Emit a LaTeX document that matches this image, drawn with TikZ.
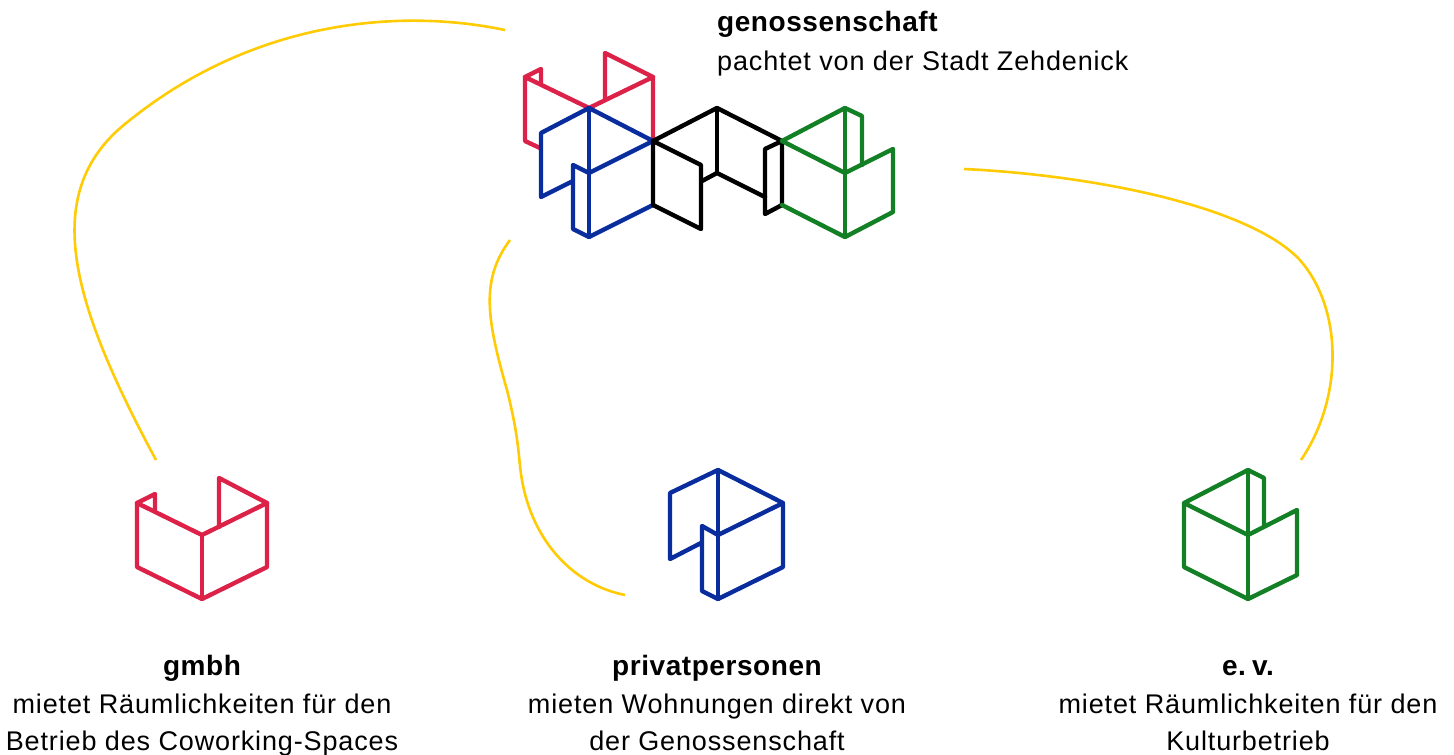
\documentclass[tikz,border=0pt]{standalone}
\usepackage{fontspec}
\setmainfont{Liberation Sans}
\newfontfamily\bodyfont[LetterSpace=3.2]{Liberation Sans}
\newfontfamily\headfont[LetterSpace=2,BoldFont={Liberation Sans Bold}]{Liberation Sans}
\definecolor{cred}{HTML}{DC2249}
\definecolor{cblue}{HTML}{0A2D9E}
\definecolor{cgreen}{HTML}{148025}
\definecolor{cyel}{HTML}{FFCB05}
\tikzset{
 icon/.style={line width=4.4pt,line join=round,line cap=round},
 curve/.style={cyel,line width=2.6pt},
 head/.style={inner sep=0pt,font=\headfont\fontsize{28}{28}\selectfont\bfseries},
 body/.style={inner sep=0pt,font=\bodyfont\fontsize{27}{27}\selectfont}
}
\begin{document}
\begin{tikzpicture}[x=1pt,y=-1pt]
\useasboundingbox (0,0) rectangle (1454,755);
% top cluster
\begin{scope}[icon,cred]
\draw (540,148)--(525,141)--(525,77)--(589,108)--(653,77)--(653,140);
\draw (525,77)--(541,69)--(541,84);
\draw (605,100)--(605,53)--(653,77);
\end{scope}
\begin{scope}[icon,cblue]
\draw (573,181)--(541,197)--(541,133)--(589,108)--(653,141)--(589,173)--(573,165)--(573,229)--(589,237)--(653,205);
\draw (589,108)--(589,237);
\end{scope}
\begin{scope}[icon,black]
\draw (653,141)--(717,108)--(782,141)--(782,205)--(765,214)--(765,149)--(782,141);
\draw (653,141)--(653,205)--(701,229)--(701,165)--(653,141);
\draw (717,108)--(717,173);
\draw (702,181)--(717,173)--(765,197);
\end{scope}
\begin{scope}[icon,cgreen]
\draw (782,141)--(845,108)--(862,116)--(862,165);
\draw (782,141)--(845,173)--(893,149)--(893,212)--(845,237)--(782,205);
\draw (845,108)--(845,237);
\end{scope}
% single icons
\begin{scope}[icon,cred]
\draw (155,511)--(155,494)--(137,503)--(137,567)--(202,599)--(267,567)--(267,503)--(219,478)--(219,527);
\draw (137,503)--(202,535)--(267,503);
\draw (202,535)--(202,599);
\end{scope}
\begin{scope}[icon,cblue]
\draw (701,543)--(670,559)--(670,493)--(718,470)--(783,503)--(718,535)--(702,526)--(702,591)--(718,599)--(783,567)--(783,503);
\draw (718,470)--(718,599);
\end{scope}
\begin{scope}[icon,cgreen]
\draw (1264,525)--(1264,478)--(1248,470)--(1184,503)--(1184,567)--(1248,599)--(1297,575)--(1297,510)--(1248,535)--(1184,503);
\draw (1248,470)--(1248,599);
\end{scope}
% connectors
\coordinate (ga) at (505,30);
\coordinate (gb) at (156,460);
\coordinate (pa) at (510,240);
\coordinate (pb) at (625,595);
\coordinate (ea) at (964,169);
\coordinate (eb) at (1301,460);
\draw[curve] (ga) .. controls (400,8) and (255,20) .. (130,120) .. controls (38,190) and (70,300) .. (gb);
\draw[curve] (pa) .. controls (480,280) and (487,320) .. (507,390) .. controls (522,450) and (517,460) .. (524,490) .. controls (537,545) and (575,585) .. (pb);
\draw[curve] (ea) .. controls (1090,175) and (1245,205) .. (1298,258) .. controls (1342,305) and (1345,395) .. (eb);
% labels
\node[head,anchor=base west] (t1) at (717,31) {genossenschaft};
\node[body,anchor=base west] (t2) at (717,70) {pachtet von der Stadt Zehdenick};
\node[head,anchor=base] (g1) at (202,675) {gmbh};
\node[body,anchor=base] (g2) at (202,713) {mietet Räumlichkeiten für den};
\node[body,anchor=base] (g3) at (202,750) {Betrieb des Coworking-Spaces};
\node[head,anchor=base] (p1) at (717,675) {privatpersonen};
\node[body,anchor=base] (p2) at (717,713) {mieten Wohnungen direkt von};
\node[body,anchor=base] (p3) at (717,750) {der Genossenschaft};
\node[head,anchor=base] (e1) at (1248,675) {e.\hspace{6pt}v.};
\node[body,anchor=base] (e2) at (1248,713) {mietet Räumlichkeiten für den};
\node[body,anchor=base] (e3) at (1248,750) {Kulturbetrieb};
\end{tikzpicture}
\end{document}
